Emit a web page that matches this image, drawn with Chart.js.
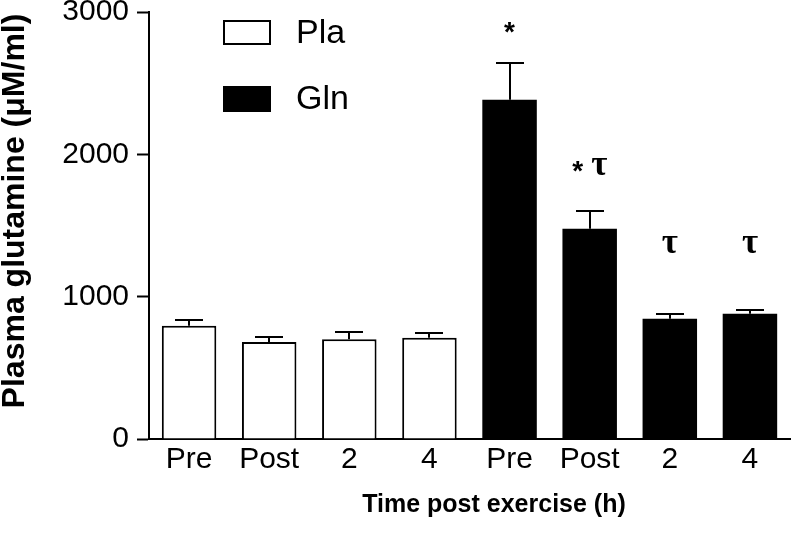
<!DOCTYPE html>
<html><head><meta charset="utf-8">
<script src="https://cdn.jsdelivr.net/npm/chart.js@4"></script>
<style>html,body{margin:0;padding:0;background:#fff}#wrap{width:791px;height:535px}</style>
</head><body><div id="wrap"><canvas id="c" width="791" height="535"></canvas></div>
<script>
const categories = ["Pre","Post","2","4","Pre","Post","2","4"];
const seriesNames = ["Pla","Gln"];
const plaMean = [796,682,701,712,null,null,null,null];
const plaSem  = [38,35,49,33,null,null,null,null];
const glnMean = [null,null,null,null,2384,1478,845,880];
const glnSem  = [null,null,null,null,258,126,33,24];
const yTicks = [0,1000,2000,3000];
const markIndex = [4,5,6,7];
const markText  = ["*","* τ","τ","τ"];
const markValue = [2888,1918,1363,1363];
const yTitle = "Plasma glutamine (μM/ml)";
const xTitle = "Time post exercise (h)";

const SANS = "'Liberation Sans', Arial, sans-serif";
const SERIF = "'Liberation Serif', 'Times New Roman', serif";

const errPlugin = {
  id: 'errs',
  afterDatasetsDraw(chart) {
    const ctx = chart.ctx, y = chart.scales.y;
    ctx.save();
    ctx.strokeStyle = '#000'; ctx.lineWidth = 2;
    [[0, plaMean, plaSem], [1, glnMean, glnSem]].forEach(([di, m, s]) => {
      const meta = chart.getDatasetMeta(di);
      meta.data.forEach((bar, i) => {
        if (m[i] == null) return;
        const yb = y.getPixelForValue(m[i]);
        const yt = Math.round(y.getPixelForValue(m[i] + s[i]));
        const x = Math.round(bar.x);
        ctx.beginPath();
        ctx.moveTo(x, yb); ctx.lineTo(x, yt);
        ctx.moveTo(x - 14, yt); ctx.lineTo(x + 14, yt);
        ctx.stroke();
      });
    });
    // significance marks
    ctx.fillStyle = '#000';
    ctx.textAlign = 'left'; ctx.textBaseline = 'alphabetic';
    const meta = chart.getDatasetMeta(1);
    markIndex.forEach((idx, k) => {
      const cx = meta.data[idx].x;
      const cy = y.getPixelForValue(markValue[k]);
      const toks = markText[k].split(' ');
      const parts = toks.map(t => {
        const font = t === '*' ? 'bold 28px ' + SANS : 'bold 35px ' + SERIF;
        ctx.font = font;
        const m = ctx.measureText(t);
        return {t, font, w: m.actualBoundingBoxRight + m.actualBoundingBoxLeft, l: m.actualBoundingBoxLeft,
                a: m.actualBoundingBoxAscent, d: m.actualBoundingBoxDescent};
      });
      const gap = 8;
      const total = parts.reduce((s, p) => s + p.w, 0) + gap * (parts.length - 1);
      let x = cx - total / 2;
      parts.forEach(p => {
        ctx.font = p.font;
        ctx.fillText(p.t, x + p.l, cy + (p.a - p.d) / 2);
        x += p.w + gap;
      });
    });
    ctx.restore();
  },
  afterDraw(chart) {
    const ctx = chart.ctx;
    ctx.save();
    // legend
    const ds = chart.data.datasets;
    const boxes = [[223, 20, 48, 25], [223, 86, 48, 26]];
    ds.forEach((d, i) => {
      const [bx, by, bw, bh] = boxes[i];
      ctx.fillStyle = d.backgroundColor;
      ctx.fillRect(bx, by, bw, bh);
      ctx.strokeStyle = '#000'; ctx.lineWidth = 2;
      ctx.strokeRect(bx + 1, by + 1, bw - 2, bh - 2);
      ctx.fillStyle = '#000';
      ctx.font = '34px ' + SANS;
      ctx.textAlign = 'left'; ctx.textBaseline = 'middle';
      ctx.fillText(d.label, 296, by + bh / 2 + 1);
    });
    // x title
    ctx.font = 'bold 25px ' + SANS;
    ctx.textAlign = 'center'; ctx.textBaseline = 'middle';
    ctx.fillText(xTitle, 494, 505);
    // y title
    ctx.translate(15, 211);
    ctx.rotate(-Math.PI / 2);
    ctx.font = 'bold 32px ' + SANS;
    ctx.fillText(yTitle, 0, 0);
    ctx.restore();
  }
};

new Chart(document.getElementById('c'), {
  type: 'bar',
  data: {
    labels: categories,
    datasets: [
      { label: seriesNames[0], data: plaMean, backgroundColor: '#ffffff', borderColor: '#000', borderWidth: 2,
        grouped: false, categoryPercentage: 1, barPercentage: 0.68 },
      { label: seriesNames[1], data: glnMean, backgroundColor: '#000000', borderColor: '#000', borderWidth: 0,
        grouped: false, categoryPercentage: 1, barPercentage: 0.68 }
    ]
  },
  options: {
    responsive: false, animation: false, devicePixelRatio: 1,
    layout: { padding: { top: 12, right: 1, bottom: 0, left: 0 } },
    plugins: { legend: { display: false }, tooltip: { enabled: false } },
    scales: {
      x: {
        grid: { display: false, drawTicks: false },
        border: { display: true, color: '#000', width: 2 },
        ticks: { color: '#000', font: { family: SANS, size: 30 }, padding: 3, autoSkip: false, maxRotation: 0 },
        afterFit(s) { s.height = 96; s.paddingLeft = 0; s.paddingRight = 0; }
      },
      y: {
        min: 0, max: 3000,
        afterBuildTicks(s) { s.ticks = yTicks.map(v => ({ value: v })); },
        grid: { drawOnChartArea: false, drawTicks: true, tickLength: 12, tickColor: '#000', tickWidth: 2 },
        border: { display: true, color: '#000', width: 2 },
        ticks: { color: '#000', font: { family: SANS, size: 30 }, padding: 8, callback: v => String(v) },
        afterFit(s) { s.width = 149; s.paddingTop = 0; s.paddingBottom = 0; }
      }
    }
  },
  plugins: [errPlugin]
});
</script></body></html>
